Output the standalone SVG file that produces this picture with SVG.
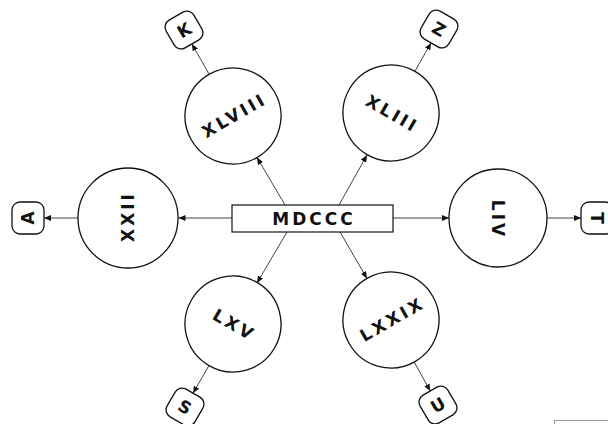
<svg xmlns="http://www.w3.org/2000/svg" width="608" height="424" viewBox="0 0 608 424">
<style>
.c{fill:#fff;stroke:#111;stroke-width:1.3}
.leaf{fill:#fff;stroke:#111;stroke-width:1.3}
.t{font-family:"DejaVu Sans",sans-serif;font-weight:700;font-size:17px;fill:#111;text-anchor:middle;letter-spacing:3px}
.lt{font-family:"DejaVu Sans",sans-serif;font-weight:700;font-size:17px;fill:#111;text-anchor:middle}
.e{stroke:#444;stroke-width:1;fill:none;marker-end:url(#ah)}
</style>
<defs>
<marker id="ah" markerUnits="userSpaceOnUse" markerWidth="8" markerHeight="6" refX="7" refY="3" orient="auto">
<path d="M0,0 L7,3 L0,6 z" fill="#111"/>
</marker>
</defs>
<rect width="608" height="424" fill="#fff"/>
<g id="connectors">
<line class="e" x1="232" y1="218" x2="178.5" y2="218"/>
<line class="e" x1="393" y1="218" x2="449" y2="218"/>
<line class="e" x1="285" y1="205" x2="257" y2="157.5"/>
<line class="e" x1="339" y1="205" x2="367" y2="155"/>
<line class="e" x1="287" y1="232" x2="257" y2="283"/>
<line class="e" x1="340" y1="232" x2="367" y2="278.5"/>
<line class="e" x1="209.2" y1="74.3" x2="191.9" y2="43.9"/>
<line class="e" x1="414.8" y1="71.3" x2="431.1" y2="42.9"/>
<line class="e" x1="209" y1="365.5" x2="193" y2="393.2"/>
<line class="e" x1="414.2" y1="362" x2="430.3" y2="391"/>
<line class="e" x1="78" y1="218" x2="44" y2="218"/>
<line class="e" x1="547" y1="218" x2="581" y2="218"/>
</g>
<g id="MDCCC">
<rect x="232" y="205" width="161" height="27" fill="#fff" stroke="#111" stroke-width="1.2"/>
<text class="t" x="314" y="224.5">MDCCC</text>
</g>
<g id="XLVIII" transform="translate(233,116) rotate(-30)">
<circle class="c" r="48"/>
<text class="t" x="1.5" y="6">XLVIII</text>
</g>
<g id="XLIII" transform="translate(391,113) rotate(30)">
<circle class="c" r="48"/>
<text class="t" x="1.5" y="6">XLIII</text>
</g>
<g id="XXII" transform="translate(128,218) rotate(-90)">
<circle class="c" r="50"/>
<text class="t" x="1.5" y="6">XXII</text>
</g>
<g id="LIV" transform="translate(498,218) rotate(90)">
<circle class="c" r="49"/>
<text class="t" x="1.5" y="6">LIV</text>
</g>
<g id="LXV" transform="translate(233,324) rotate(30)">
<circle class="c" r="48"/>
<text class="t" x="1.5" y="6">LXV</text>
</g>
<g id="LXXIX" transform="translate(391,320) rotate(-30)">
<circle class="c" r="48"/>
<text class="t" x="1.5" y="6">LXXIX</text>
</g>
<g id="K" transform="translate(184,30) rotate(-30)">
<rect class="leaf" x="-16" y="-16" width="32" height="32" rx="8"/>
<text class="lt" x="0" y="6.2">K</text>
</g>
<g id="Z" transform="translate(439,29) rotate(30)">
<rect class="leaf" x="-16" y="-16" width="32" height="32" rx="8"/>
<text class="lt" x="0" y="6.2">Z</text>
</g>
<g id="A" transform="translate(28,218) rotate(-90)">
<rect class="leaf" x="-16" y="-16" width="32" height="32" rx="8"/>
<text class="lt" x="0" y="6.2">A</text>
</g>
<g id="T" transform="translate(597,218) rotate(90)">
<rect class="leaf" x="-16" y="-16" width="32" height="32" rx="8"/>
<text class="lt" x="0" y="6.2">T</text>
</g>
<g id="S" transform="translate(185,407) rotate(30)">
<rect class="leaf" x="-16" y="-16" width="32" height="32" rx="8"/>
<text class="lt" x="0" y="6.2">S</text>
</g>
<g id="U" transform="translate(438,405) rotate(-30)">
<rect class="leaf" x="-16" y="-16" width="32" height="32" rx="8"/>
<text class="lt" x="0" y="6.2">U</text>
</g>
<rect x="554.5" y="420.5" width="60" height="10" fill="#fff" stroke="#999" stroke-width="1"/>
</svg>
